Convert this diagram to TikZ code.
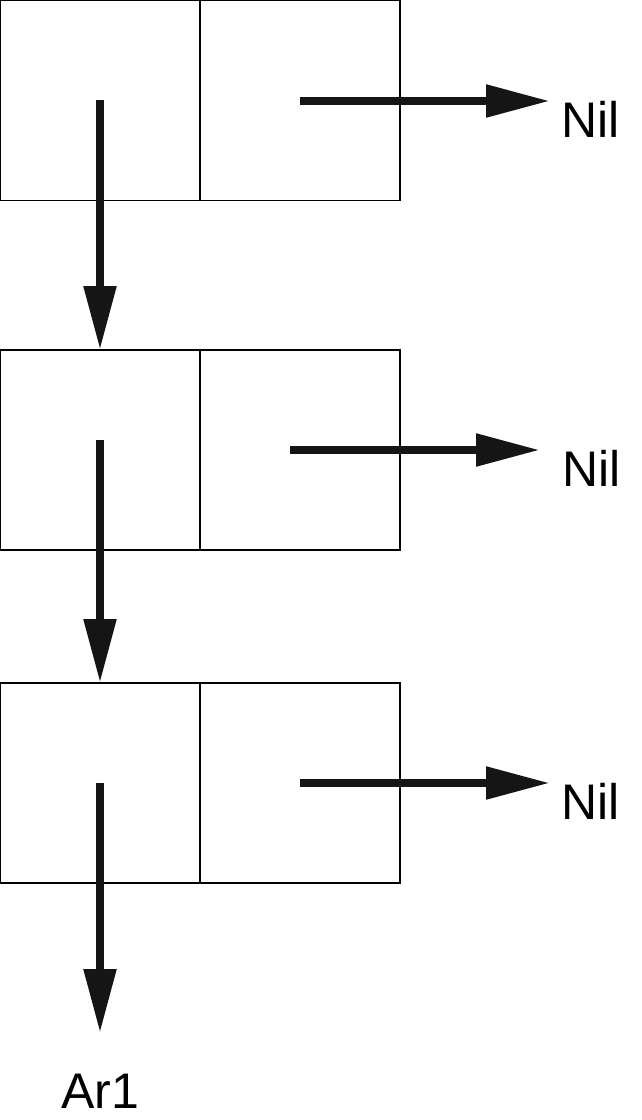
\documentclass[tikz,border=0pt]{standalone}
\usepackage{fontspec}
\setmainfont{Liberation Sans}
\usetikzlibrary{arrows.meta}
\definecolor{arrowc}{HTML}{151515}
\begin{document}
\begin{tikzpicture}[x=1pt,y=-1pt,
  cell/.style={draw=black,line width=1.3pt,minimum width=200pt,minimum height=200pt,inner sep=0pt,outer sep=0pt},
  ptr/.style={draw=arrowc,line width=8.5pt,-{Triangle[length=64pt,width=31pt]}},
  lbl/.style={inner sep=0pt,font=\fontsize{50}{60}\selectfont}]
\useasboundingbox (0,0) rectangle (641,1120);
% boxes
\node[cell] (a1) at (100,100.5) {};
\node[cell] (b1) at (300,100.5) {};
\node[cell] (a2) at (100,450) {};
\node[cell] (b2) at (300,450) {};
\node[cell] (a3) at (100,783) {};
\node[cell] (b3) at (300,783) {};
% labels
\node[lbl,anchor=base west] (n1) at (561,137) {Nil};
\node[lbl,anchor=base west] (n2) at (562,486.5) {Nil};
\node[lbl,anchor=base west] (n3) at (561,819.5) {Nil};
\node[lbl,anchor=base] (ar) at (100,1108) {Ar1};
% pointer coordinates
\coordinate (s1) at (100,100);
\coordinate (h1) at (300,101);
\coordinate (e1) at (550,101);
\coordinate (s2) at (100,440);
\coordinate (h2) at (290,450);
\coordinate (e2) at (540,450);
\coordinate (s3) at (100,783);
\coordinate (h3) at (300,783);
\coordinate (e3) at (550,783);
\coordinate (e4) at (100,1033);
% pointers
\draw[ptr] (s1) -- (a2.north);
\draw[ptr] (h1) -- (e1);
\draw[ptr] (s2) -- (a3.north);
\draw[ptr] (h2) -- (e2);
\draw[ptr] (s3) -- (e4);
\draw[ptr] (h3) -- (e3);
\end{tikzpicture}
\end{document}
